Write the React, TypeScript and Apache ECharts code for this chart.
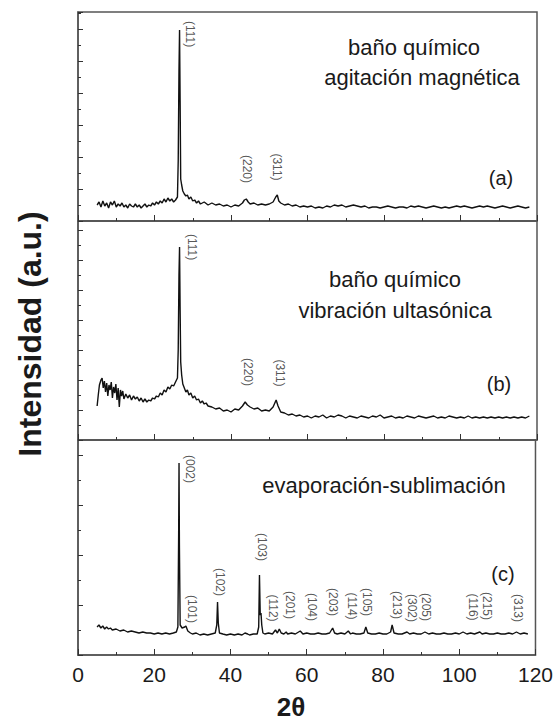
import React, { useEffect, useRef } from "react";
import * as echarts from "echarts";

// 2θ (deg) and intensity (a.u.) pairs for each diffractogram
const seriesA: number[][] = [
  [5, 16], [5.5, 19], [6, 14], [6.5, 20], [7, 15], [7.5, 18], [8, 13], [8.5, 19], [9, 16], [9.5, 20],
  [10, 14], [10.5, 17], [11, 15], [11.5, 18], [12, 14], [12.5, 16], [13, 13], [13.5, 17], [14, 15], [14.5, 14],
  [15, 17], [15.5, 14], [16, 16], [16.5, 13], [17, 15], [17.5, 17], [18, 14], [18.5, 16], [19, 15], [19.5, 18],
  [20, 16], [20.5, 19], [21, 17], [21.5, 20], [22, 18], [22.5, 22], [23, 19], [23.5, 23], [24, 20], [24.5, 22],
  [25, 19], [25.5, 21], [26, 24], [26.2, 60], [26.4, 150], [26.55, 191], [26.7, 120], [26.85, 42], [27.1, 36],
  [27.4, 30], [27.8, 27], [28.2, 25], [28.6, 26], [29, 22], [29.5, 24], [30, 20], [30.5, 21], [31, 18], [31.5, 20],
  [32, 17], [33, 19], [34, 16], [35, 18], [36, 16], [37, 17], [38, 15], [39, 16], [40, 14], [41, 16], [42, 15],
  [43, 18], [43.5, 21], [44, 22], [44.5, 19], [45, 17], [46, 18], [47, 16], [48, 17], [49, 16], [50, 17], [51, 19],
  [51.7, 24], [52.1, 26], [52.5, 20], [53, 18], [54, 16], [55, 17], [56, 15], [57, 16], [58, 14], [59, 15],
  [60, 14], [61, 15], [62, 13], [63, 14], [64, 13], [65, 15], [66, 14], [67, 16], [68, 15], [69, 16], [70, 14],
  [71, 15], [72, 16], [73, 15], [74, 14], [75, 15], [76, 13], [77, 14], [78, 14], [79, 13], [80, 14], [81, 15],
  [82, 14], [83, 13], [84, 14], [85, 14], [86, 13], [87, 15], [88, 14], [89, 15], [90, 14], [91, 13], [92, 14],
  [93, 15], [94, 14], [95, 13], [96, 14], [97, 13], [98, 14], [99, 15], [100, 14], [101, 15], [102, 14], [103, 13],
  [104, 14], [105, 15], [106, 14], [107, 15], [108, 14], [109, 13], [110, 14], [111, 15], [112, 14], [113, 13],
  [114, 14], [115, 15], [116, 14], [117, 13], [118, 14],
];

const seriesB: number[][] = [
  [5, 34], [5.3, 45], [5.6, 55], [6, 60], [6.3, 62], [6.6, 52], [6.9, 59], [7.2, 48], [7.5, 57], [7.8, 44],
  [8.1, 55], [8.4, 50], [8.7, 58], [9, 42], [9.3, 53], [9.6, 47], [9.9, 56], [10.2, 40], [10.5, 52], [10.8, 33],
  [11.1, 50], [11.4, 44], [11.7, 49], [12, 41], [12.5, 46], [13, 42], [13.5, 45], [14, 40], [14.5, 44], [15, 41],
  [15.5, 43], [16, 39], [16.5, 42], [17, 38], [17.5, 41], [18, 38], [18.5, 40], [19, 39], [19.5, 42], [20, 41],
  [20.5, 44], [21, 43], [21.5, 47], [22, 45], [22.5, 50], [23, 48], [23.5, 53], [24, 51], [24.5, 55], [25, 54],
  [25.5, 58], [26, 62], [26.2, 90], [26.4, 165], [26.55, 193], [26.7, 130], [26.85, 78], [27.1, 65], [27.4, 56],
  [27.8, 52], [28.2, 48], [28.6, 50], [29, 45], [29.5, 47], [30, 42], [30.5, 44], [31, 40], [31.5, 41], [32, 37],
  [32.5, 39], [33, 36], [33.5, 37], [34, 34], [35, 33], [36, 31], [37, 32], [38, 29], [39, 30], [40, 28], [41, 31],
  [42, 30], [43, 34], [43.7, 38], [44.3, 35], [45, 33], [46, 31], [47, 32], [48, 29], [49, 30], [50, 29], [51, 33],
  [51.8, 40], [52.3, 34], [53, 28], [54, 27], [55, 25], [56, 26], [57, 24], [58, 25], [59, 23], [60, 24],
  [61, 22], [62, 24], [63, 23], [64, 25], [65, 22], [66, 24], [67, 23], [68, 25], [69, 24], [70, 22], [71, 24],
  [72, 23], [73, 22], [74, 24], [75, 23], [76, 22], [77, 24], [78, 23], [79, 25], [80, 22], [81, 23], [82, 24],
  [83, 22], [84, 23], [85, 22], [86, 24], [87, 23], [88, 22], [89, 24], [90, 23], [91, 22], [92, 23], [93, 24],
  [94, 22], [95, 23], [96, 22], [97, 24], [98, 23], [99, 22], [100, 23], [101, 22], [102, 24], [103, 22],
  [104, 23], [105, 22], [106, 23], [107, 22], [108, 23], [109, 22], [110, 23], [111, 22], [112, 23], [113, 22],
  [114, 23], [115, 22], [116, 23], [117, 22], [118, 24],
];

const seriesC: number[][] = [
  [5, 28], [5.5, 30], [6, 27], [6.5, 29], [7, 26], [7.5, 28], [8, 26], [8.5, 27], [9, 25], [10, 26], [11, 24],
  [12, 25], [13, 23], [14, 24], [15, 23], [16, 22], [17, 23], [18, 22], [19, 22], [20, 21], [21, 22], [22, 21],
  [23, 22], [24, 21], [25, 22], [25.8, 23], [26.2, 28], [26.4, 120], [26.5, 192], [26.6, 110], [26.8, 30],
  [27.3, 27], [28, 28], [28.3, 29], [28.8, 24], [29.5, 22], [30, 21], [31, 22], [32, 20], [33, 21], [34, 20],
  [35, 21], [36, 22], [36.4, 30], [36.6, 53], [36.8, 32], [37.1, 22], [38, 21], [39, 20], [40, 21], [41, 20],
  [42, 21], [43, 20], [43.8, 22], [44.5, 21], [45, 20], [46, 21], [47, 21], [47.4, 28], [47.6, 80], [47.8, 40],
  [48, 42], [48.2, 30], [48.5, 22], [49, 21], [50, 22], [51, 21], [51.8, 25], [52.3, 22], [52.8, 26], [53.3, 22],
  [54, 21], [54.6, 23], [55, 21], [56, 22], [57, 21], [58.3, 24], [59, 21], [60, 22], [61, 21], [62, 21],
  [63, 22], [64, 21], [65, 21], [66, 22], [66.8, 27], [67.3, 22], [68, 21], [69, 22], [70, 21], [70.9, 24],
  [71.5, 21], [72, 22], [73, 21], [74, 21], [75, 22], [75.5, 28], [76, 22], [77, 21], [78, 21], [79, 22],
  [80, 21], [81, 21], [82, 23], [82.4, 30], [82.9, 22], [84, 21], [85, 21], [86.3, 23], [87, 21], [88, 22],
  [89, 21], [90, 21], [91, 23], [92, 21], [93, 22], [94, 21], [95, 21], [96, 22], [97, 21], [98, 21], [99, 22],
  [100, 21], [101, 23], [102, 21], [103, 22], [104, 21], [105.4, 23], [106, 21], [107, 22], [108, 21], [109, 21],
  [110, 22], [111, 21], [112, 21], [113, 22], [114, 21], [115, 23], [116, 21], [117, 22], [118, 21],
];

// Miller-index annotations: [label, 2θ, intensity]
const labelsA: [string, number, number][] = [
  ["(111)", 29.3, 187], ["(220)", 44.3, 52], ["(311)", 52.1, 54],
];
const labelsB: [string, number, number][] = [
  ["(111)", 29.9, 193], ["(220)", 44.5, 68], ["(311)", 52.9, 67],
];
const labelsC: [string, number, number][] = [
  ["(002)", 29.3, 186], ["(101)", 29.9, 46], ["(102)", 37.2, 73], ["(103)", 48.2, 108],
  ["(112)", 51.1, 47], ["(201)", 55.5, 50], ["(104)", 61.3, 48], ["(203)", 66.8, 53],
  ["(114)", 72.0, 49], ["(105)", 75.7, 53], ["(213)", 83.6, 50], ["(302)", 87.5, 47],
  ["(205)", 91.4, 48], ["(116)", 103.5, 48], ["(215)", 107.4, 49], ["(313)", 115.3, 47],
];

const xTicks = [0, 20, 40, 60, 80, 100, 120];
const panelTitles = [
  ["baño químico", "agitación magnética"],
  ["baño químico", "vibración ultasónica"],
  ["evaporación-sublimación"],
];
const panelTags = ["(a)", "(b)", "(c)"];
const yLabel = "Intensidad (a.u.)";
const xLabel = "2θ";

const FONT = "Liberation Sans, Arial, sans-serif";

export default function App() {
  const ref = useRef<HTMLDivElement>(null);
  useEffect(() => {
    if (!ref.current) return;
    const chart = echarts.init(ref.current, null, { renderer: "svg" });
    const left = 78;
    const width = 459;
    const panels = [
      { top: 12, height: 209, yInt: 32 },
      { top: 221, height: 219, yInt: 30 },
      { top: 440, height: 215, yInt: 50 },
    ];
    const datas = [seriesA, seriesB, seriesC];
    const labs = [labelsA, labelsB, labelsC];
    const axisColor = "#555";

    const grid = panels.map((p) => ({
      left, width, top: p.top, height: p.height,
      show: true, borderColor: axisColor, borderWidth: 1.5, backgroundColor: "transparent",
    }));
    const xAxis = panels.map((p, i) => ({
      type: "value", gridIndex: i, min: 0, max: 120, interval: 20,
      axisLine: { show: true, lineStyle: { color: axisColor, width: 1.5 } },
      axisTick: { show: true, inside: true, length: 6, lineStyle: { color: "#333" } },
      minorTick: { show: true, splitNumber: 2, length: 3, lineStyle: { color: "#333" } },
      splitLine: { show: false },
      axisLabel: {
        show: i === 2, fontSize: 21, color: "#1a1a1a", fontFamily: FONT, margin: 9,
        formatter: (v: number) => (xTicks.includes(v) ? String(v) : ""),
      },
    }));
    const yAxis = panels.map((p, i) => ({
      type: "value", gridIndex: i, min: 0, max: p.height, interval: p.yInt,
      axisLine: { show: true, lineStyle: { color: axisColor, width: 1.5 } },
      axisTick: { show: true, inside: true, length: 5, lineStyle: { color: "#333" } },
      minorTick: { show: true, splitNumber: 2, length: 3, lineStyle: { color: "#333" } },
      splitLine: { show: false },
      axisLabel: { show: false },
    }));
    const series: any[] = [];
    datas.forEach((d, i) => {
      series.push({
        type: "line", xAxisIndex: i, yAxisIndex: i, data: d, showSymbol: false,
        lineStyle: { color: "#111", width: 1.4 }, silent: true,
      });
      series.push({
        type: "scatter", xAxisIndex: i, yAxisIndex: i, symbolSize: 1,
        itemStyle: { color: "rgba(0,0,0,0)" }, silent: true,
        data: labs[i].map(([n, x, y]) => ({ name: n, value: [x, y] })),
        label: {
          show: true, formatter: "{b}", rotate: -90, position: "inside",
          fontSize: 12, color: "#2a2a2a", fontFamily: FONT,
        },
      });
    });

    const titlePos = [
      [[414, 47], [422, 77]],
      [[395, 279], [395, 310]],
      [[384, 485]],
    ];
    const tagPos = [[501, 178], [499, 384], [503, 574]];
    const graphic: any[] = [];
    panelTitles.forEach((lines, i) => {
      lines.forEach((t, j) => {
        graphic.push({
          type: "text", x: titlePos[i][j][0], y: titlePos[i][j][1],
          style: { text: t, fontSize: 22, fontFamily: FONT, fill: "#1a1a1a", align: "center", verticalAlign: "middle" },
        });
      });
      graphic.push({
        type: "text", x: tagPos[i][0], y: tagPos[i][1],
        style: { text: panelTags[i], fontSize: 20, fontFamily: FONT, fill: "#1a1a1a", align: "center", verticalAlign: "middle" },
      });
    });
    graphic.push({
      type: "text", x: 30, y: 334, rotation: Math.PI / 2,
      style: { text: yLabel, fontSize: 32, fontWeight: "bold", fontFamily: FONT, fill: "#1a1a1a", align: "center", verticalAlign: "middle" },
    });
    graphic.push({
      type: "text", x: 291, y: 707,
      style: { text: xLabel, fontSize: 26, fontWeight: "bold", fontFamily: FONT, fill: "#1a1a1a", align: "center", verticalAlign: "middle" },
    });

    chart.setOption({
      animation: false,
      backgroundColor: "#fff",
      grid, xAxis, yAxis, series, graphic,
    });
    return () => chart.dispose();
  }, []);
  return <div ref={ref} style={{ width: 556, height: 725, position: "absolute", left: 0, top: 0 }} />;
}
